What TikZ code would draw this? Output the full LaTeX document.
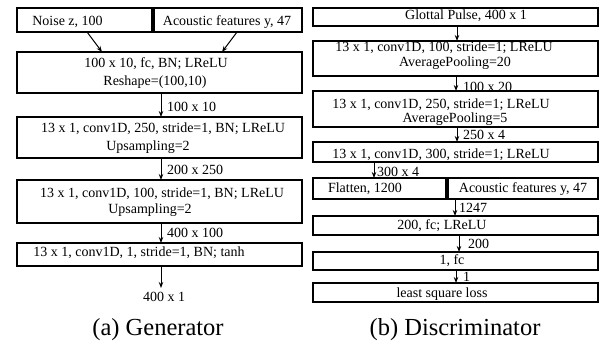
\documentclass[tikz,border=0pt]{standalone}
\usepackage{fontspec}
\setmainfont{Liberation Serif}
\usetikzlibrary{arrows.meta}
\begin{document}
\begin{tikzpicture}[x=1pt,y=-1pt,
  box/.style={draw, line width=1.2pt, inner sep=0pt, outer sep=0pt},
  txt/.style={inner sep=0pt, text height=9.4pt, text depth=0pt, font=\fontsize{14}{17}\selectfont},
  lbl/.style={txt, anchor=west},
  captext/.style={inner sep=0pt, text height=16.5pt, text depth=0pt, font=\fontsize{24.5}{29}\selectfont},
  arr/.style={line width=1pt, -{Stealth[length=6pt,width=4.5pt]}}]
\useasboundingbox (0,0) rectangle (605,340);
% ---------------- Generator ----------------
\node[box, minimum width=135pt, minimum height=24pt] (gz) at (84.5,20) {};
\node[box, minimum width=148pt, minimum height=24pt] (ga) at (228,20) {};
\node[box, minimum width=285pt, minimum height=41pt] (g1) at (159.5,72.5) {};
\node[box, minimum width=285pt, minimum height=41pt] (g2) at (159.5,137.5) {};
\node[box, minimum width=285pt, minimum height=43pt] (g3) at (159.5,201.5) {};
\node[box, minimum width=285pt, minimum height=23pt] (g4) at (159.5,254.5) {};
\node[txt] (tgz) at (67.5,21) {Noise z, 100};
\node[txt] (tga) at (227,21) {Acoustic features y, 47};
\node[txt] (tg1a) at (156,63) {100 x 10, fc, BN; LReLU};
\node[txt] (tg1b) at (155,81) {Reshape=(100,10)};
\node[txt] (tg2a) at (163,128) {13 x 1, conv1D, 250, stride=1, BN; LReLU};
\node[txt] (tg2b) at (148,146) {Upsampling=2};
\node[txt] (tg3a) at (162,193) {13 x 1, conv1D, 100, stride=1, BN; LReLU};
\node[txt] (tg3b) at (150,209) {Upsampling=2};
\node[txt] (tg4) at (139,252) {13 x 1, conv1D, 1, stride=1, BN; tanh};
\coordinate (gx) at (161,0);
\coordinate (gzx) at (87,0);
\coordinate (gzt) at (102,0);
\coordinate (gax) at (237,0);
\coordinate (gat) at (222,0);
\coordinate (gout) at (161,288);
\draw[arr] (gz.south -| gzx) -- (g1.north -| gzt);
\draw[arr] (ga.south -| gax) -- (g1.north -| gat);
\draw[arr] (g1.south -| gx) -- (g2.north -| gx);
\draw[arr] (g2.south -| gx) -- (g3.north -| gx);
\draw[arr] (g3.south -| gx) -- (g4.north -| gx);
\draw[arr] (g4.south -| gx) -- (gout);
\node[lbl] (lg1) at (167,107) {100 x 10};
\node[lbl] (lg2) at (167,170) {200 x 250};
\node[lbl] (lg3) at (167,233) {400 x 100};
\node[txt] (tgout) at (164,297) {400 x 1};
\node[captext] (capa) at (158,327) {(a) Generator};
% ---------------- Discriminator ----------------
\node[box, minimum width=285pt, minimum height=18pt] (d1) at (455.5,17) {};
\node[box, minimum width=285pt, minimum height=35pt] (d2) at (455.5,58.5) {};
\node[box, minimum width=285pt, minimum height=36pt] (d3) at (455.5,109) {};
\node[box, minimum width=285pt, minimum height=20pt] (d4) at (455.5,152) {};
\node[box, minimum width=133pt, minimum height=21pt] (dF) at (379.5,188.5) {};
\node[box, minimum width=150pt, minimum height=21pt] (dA) at (523,188.5) {};
\node[box, minimum width=285pt, minimum height=19pt] (d5) at (455.5,225.5) {};
\node[box, minimum width=285pt, minimum height=18pt] (d6) at (455.5,261) {};
\node[box, minimum width=285pt, minimum height=19pt] (d7) at (455.5,292.5) {};
\node[txt] (td1) at (466,15) {Glottal Pulse, 400 x 1};
\node[txt] (td2a) at (444,47) {13 x 1, conv1D, 100, stride=1; LReLU};
\node[txt] (td2b) at (455,62) {AveragePooling=20};
\node[txt] (td3a) at (441,104) {13 x 1, conv1D, 250, stride=1; LReLU};
\node[txt] (td3b) at (455,118) {AveragePooling=5};
\node[txt] (td4) at (441,154) {13 x 1, conv1D, 300, stride=1; LReLU};
\node[txt] (tdF) at (365,188) {Flatten, 1200};
\node[txt] (tdA) at (523,188) {Acoustic features y, 47};
\node[txt] (td5) at (442,225) {200, fc; LReLU};
\node[txt] (td6) at (452,260) {1, fc};
\node[txt] (td7) at (442,293) {least square loss};
\coordinate (dx1) at (457,0);
\coordinate (dx2) at (456,0);
\coordinate (dx4) at (374,0);
\coordinate (dx5) at (455,0);
\coordinate (dx6) at (459,0);
\draw[arr] (d1.south -| dx1) -- (d2.north -| dx1);
\draw[arr] (d2.south -| dx2) -- (d3.north -| dx2);
\draw[arr] (d3.south -| dx1) -- (d4.north -| dx1);
\draw[arr] (d4.south -| dx4) -- (dF.north -| dx4);
\draw[arr] (dA.south west -| dx5) -- (d5.north -| dx5);
\draw[arr] (d5.south -| dx6) -- (d6.north -| dx6);
\draw[arr] (d6.south -| dx2) -- (d7.north -| dx2);
\node[lbl] (ld2) at (463,87) {100 x 20};
\node[lbl] (ld3) at (463,135) {250 x 4};
\node[lbl] (ld4) at (377,172) {300 x 4};
\node[lbl] (ld5) at (459,208) {1247};
\node[lbl] (ld6) at (468,244) {200};
\node[lbl] (ld7) at (463,277) {1};
\node[captext] (capb) at (455,327) {(b) Discriminator};
\end{tikzpicture}
\end{document}
